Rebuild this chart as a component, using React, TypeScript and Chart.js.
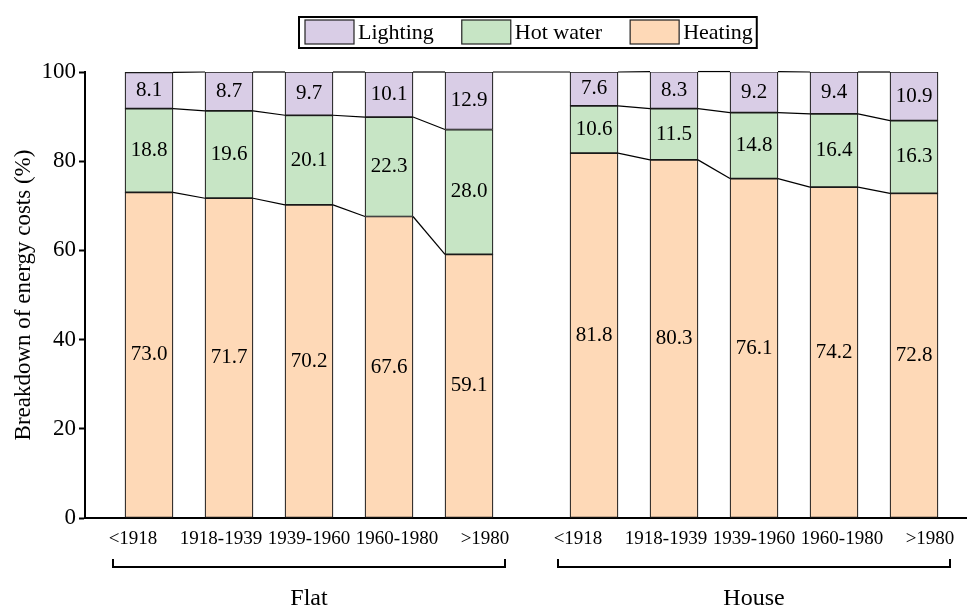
import React, { useEffect, useRef } from 'react';
import { Chart, registerables } from 'chart.js';

Chart.register(...registerables);

const PERIODS = ['<1918', '1918-1939', '1939-1960', '1960-1980', '>1980'];
const GROUPS = ['Flat', 'House'];
const SERIES_NAMES = ['Heating', 'Hot water', 'Lighting'];
const HEATING = [73.0, 71.7, 70.2, 67.6, 59.1, 81.8, 80.3, 76.1, 74.2, 72.8];
const HOT_WATER = [18.8, 19.6, 20.1, 22.3, 28.0, 10.6, 11.5, 14.8, 16.4, 16.3];
const LIGHTING = [8.1, 8.7, 9.7, 10.1, 12.9, 7.6, 8.3, 9.2, 9.4, 10.9];
const Y_TICKS = [0, 20, 40, 60, 80, 100];
const Y_TITLE = 'Breakdown of energy costs (%)';
const LEGEND_ORDER = ['Lighting', 'Hot water', 'Heating'];

const COLORS: Record<string, string> = {
  Heating: '#FED9B7',
  'Hot water': '#C7E5C5',
  Lighting: '#D9CDE6',
};

const FONT = '"Liberation Serif", "Times New Roman", serif';
const GROUP_STEP = 5.5625; // layout: distance between group starts in slot units
const LABEL_SPREAD = 1.1; // layout: tick label spacing relative to bar spacing
const N = PERIODS.length;

const pos = (k: number) => Math.floor(k / N) * GROUP_STEP + (k % N);

export default function App() {
  const ref = useRef<HTMLCanvasElement | null>(null);

  useEffect(() => {
    document.body.style.margin = '0';
    const canvas = ref.current;
    if (!canvas) return;

    const seriesValues = [HEATING, HOT_WATER, LIGHTING];

    const tickPositions: number[] = [];
    const tickLabels: string[] = [];
    GROUPS.forEach((_, g) => {
      const center = g * GROUP_STEP + (N - 1) / 2;
      PERIODS.forEach((p, i) => {
        tickPositions.push(center + (i - (N - 1) / 2) * LABEL_SPREAD);
        tickLabels.push(p);
      });
    });

    const decor = {
      id: 'decor',
      afterDatasetsDraw(chart: any) {
        const ctx = chart.ctx;
        const metas = [0, 1, 2].map((d) => chart.getDatasetMeta(d));
        ctx.save();
        ctx.strokeStyle = '#000';
        ctx.lineWidth = 1.2;
        metas.forEach((meta: any, d: number) => {
          for (let k = 0; k < meta.data.length - 1; k++) {
            const same = Math.floor(k / N) === Math.floor((k + 1) / N);
            if (!same && d !== 2) continue;
            const a = meta.data[k];
            const b = meta.data[k + 1];
            ctx.beginPath();
            ctx.moveTo(a.x + a.width / 2, a.y);
            ctx.lineTo(b.x - b.width / 2, b.y);
            ctx.stroke();
          }
        });
        ctx.fillStyle = '#000';
        ctx.font = `21px ${FONT}`;
        ctx.textAlign = 'center';
        ctx.textBaseline = 'middle';
        metas.forEach((meta: any, d: number) => {
          meta.data.forEach((el: any, k: number) => {
            const v = seriesValues[d][k];
            ctx.fillText(v.toFixed(1), el.x, (el.y + el.base) / 2);
          });
        });
        ctx.restore();
      },
      afterDraw(chart: any) {
        const ctx = chart.ctx;
        const xs = chart.scales.x;
        ctx.save();
        ctx.strokeStyle = '#000';
        ctx.lineWidth = 2;
        GROUPS.forEach((name, g) => {
          const x0 = xs.getPixelForValue(pos(g * N) - 0.45);
          const x1 = xs.getPixelForValue(pos(g * N + N - 1) + 0.45);
          ctx.beginPath();
          ctx.moveTo(x0, 559);
          ctx.lineTo(x0, 567);
          ctx.lineTo(x1, 567);
          ctx.lineTo(x1, 559);
          ctx.stroke();
          ctx.fillStyle = '#000';
          ctx.font = `24px ${FONT}`;
          ctx.textAlign = 'center';
          ctx.textBaseline = 'middle';
          ctx.fillText(name, (x0 + x1) / 2, 599);
        });
        ctx.font = `22px ${FONT}`;
        const sw = 49, sh = 24, gapText = 4, gapItem = 28;
        const widths = LEGEND_ORDER.map((n) => ctx.measureText(n).width);
        const total = widths.reduce((s, w) => s + sw + gapText + w, 0) + gapItem * (LEGEND_ORDER.length - 1);
        const boxL = 299;
        let x = boxL + 6;
        const boxR = x + total + 4;
        ctx.lineWidth = 2;
        ctx.strokeStyle = '#000';
        ctx.strokeRect(boxL, 17, boxR - boxL, 31);
        LEGEND_ORDER.forEach((n, i) => {
          ctx.fillStyle = COLORS[n];
          ctx.fillRect(x, 20, sw, sh);
          ctx.lineWidth = 1.2;
          ctx.strokeStyle = '#222';
          ctx.strokeRect(x, 20, sw, sh);
          ctx.fillStyle = '#000';
          ctx.textAlign = 'left';
          ctx.textBaseline = 'middle';
          ctx.fillText(n, x + sw + gapText, 33);
          x += sw + gapText + widths[i] + gapItem;
        });
        ctx.restore();
      },
    };

    const chart = new Chart(canvas, {
      type: 'bar',
      data: {
        datasets: SERIES_NAMES.map((name, d) => ({
          label: name,
          data: seriesValues[d].map((v, k) => ({ x: pos(k), y: v })),
          backgroundColor: COLORS[name],
          borderColor: '#1a1a1a',
          borderWidth: 1.2,
          borderSkipped: false,
          barThickness: 48,
        })),
      },
      options: {
        responsive: false,
        animation: false,
        layout: { padding: { top: 72, right: 2, left: 0, bottom: 0 } },
        plugins: { legend: { display: false }, tooltip: { enabled: false } },
        scales: {
          x: {
            type: 'linear',
            stacked: true,
            offset: false,
            min: -0.8,
            max: 10.2125,
            grid: { display: false, drawTicks: false, offset: false },
            border: { display: true, color: '#000', width: 2 },
            afterBuildTicks: (s: any) => {
              s.ticks = tickPositions.map((v) => ({ value: v }));
            },
            afterFit: (s: any) => {
              s.height = 89;
            },
            ticks: {
              autoSkip: false,
              maxRotation: 0,
              minRotation: 0,
              padding: 10,
              color: '#000',
              font: { family: FONT, size: 19 },
              callback: (_v: any, i: number) => tickLabels[i],
            },
          },
          y: {
            stacked: true,
            min: 0,
            max: 100,
            afterBuildTicks: (s: any) => {
              s.ticks = Y_TICKS.map((v) => ({ value: v }));
            },
            afterFit: (s: any) => {
              s.width = 85;
            },
            grid: {
              display: true,
              drawOnChartArea: false,
              drawTicks: true,
              tickLength: 6,
              tickWidth: 2,
              tickColor: '#000',
            },
            border: { display: true, color: '#000', width: 2 },
            ticks: { padding: 3, color: '#000', font: { family: FONT, size: 23 } },
            title: {
              display: true,
              text: Y_TITLE,
              color: '#000',
              font: { family: FONT, size: 23 },
              padding: { top: 10, bottom: 0 },
            },
          },
        },
      } as any,
      plugins: [decor],
    });

    return () => chart.destroy();
  }, []);

  return (
    <div style={{ position: 'absolute', left: 0, top: 0, width: 968, height: 607 }}>
      <canvas ref={ref} width={968} height={607} style={{ display: 'block' }} />
    </div>
  );
}
